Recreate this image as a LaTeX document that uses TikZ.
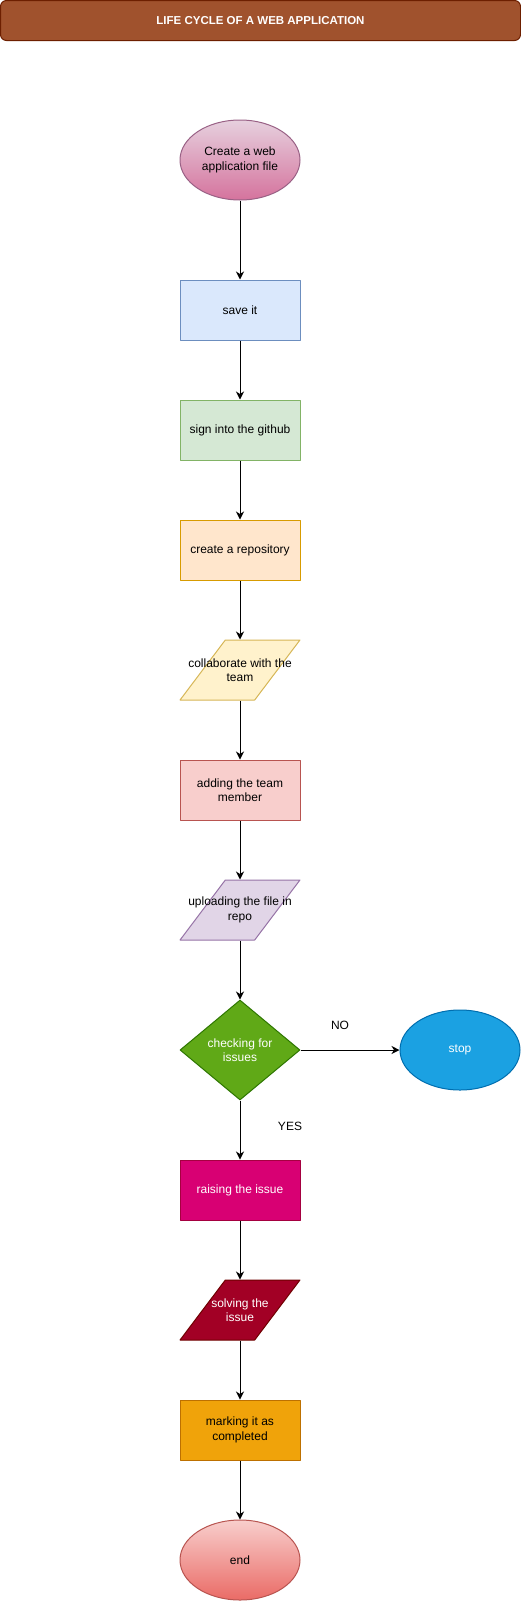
\documentclass[tikz,border=0pt]{standalone}
\usepackage{fontspec}
\setmainfont{Liberation Sans}
\usetikzlibrary{arrows.meta,shapes.geometric}
\definecolor{titleF}{HTML}{A0522D}\definecolor{titleL}{HTML}{6D1F00}
\definecolor{startA}{HTML}{E6D0DE}\definecolor{startB}{HTML}{D5739D}\definecolor{startL}{HTML}{996185}
\definecolor{saveF}{HTML}{DAE8FC}\definecolor{saveL}{HTML}{6C8EBF}
\definecolor{signF}{HTML}{D5E8D4}\definecolor{signL}{HTML}{82B366}
\definecolor{repoF}{HTML}{FFE6CC}\definecolor{repoL}{HTML}{D79B00}
\definecolor{collabF}{HTML}{FFF2CC}\definecolor{collabL}{HTML}{D6B656}
\definecolor{addF}{HTML}{F8CECC}\definecolor{addL}{HTML}{B85450}
\definecolor{uploadF}{HTML}{E1D5E7}\definecolor{uploadL}{HTML}{9673A6}
\definecolor{checkF}{HTML}{60A917}\definecolor{checkL}{HTML}{2D7600}
\definecolor{stopF}{HTML}{1BA1E2}\definecolor{stopL}{HTML}{006EAF}
\definecolor{raiseF}{HTML}{D80073}\definecolor{raiseL}{HTML}{A50040}
\definecolor{solveF}{HTML}{A20025}\definecolor{solveL}{HTML}{6F0000}
\definecolor{markF}{HTML}{F0A30A}\definecolor{markL}{HTML}{BD7000}
\definecolor{endA}{HTML}{F8CECC}\definecolor{endB}{HTML}{EA6B66}\definecolor{endL}{HTML}{B85450}
\tikzset{
	box/.style={draw,minimum width=120pt,minimum height=60pt,inner sep=0pt,align=center},
	oval/.style={box,ellipse,minimum height=80pt},
	para/.style={box,trapezium,inner sep=2pt,trapezium left angle=71.57,trapezium right angle=108.43,trapezium stretches=true},
}
\begin{document}
\begin{tikzpicture}[x=1pt,y=-1pt,line width=1pt,>={Stealth[length=8pt,width=8pt,inset=2.5pt]},line join=round,font=\fontsize{12}{14.5}\selectfont]
	\useasboundingbox (0,0) rectangle (521,1601);
	\node[draw=titleL,fill=titleF,rounded corners=6pt,minimum width=520pt,minimum height=40pt,text=white,font=\bfseries\fontsize{11.5}{14}\selectfont] (title) at (260.5,20.5) {LIFE CYCLE OF A WEB APPLICATION};
	\node[oval,top color=startA,bottom color=startB,draw=startL] (create) at (240,160) {Create a web\\application file};
	\node[box,fill=saveF,draw=saveL] (save) at (240,310) {save it};
	\node[box,fill=signF,draw=signL] (sign) at (240,430) {sign into the github};
	\node[box,fill=repoF,draw=repoL] (repo) at (240,550) {create a repository};
	\node[para,fill=collabF,draw=collabL,label={[align=center]center:{collaborate with the\\team}}] (collab) at (240,670) {\strut};
	\node[box,fill=addF,draw=addL] (add) at (240,790) {adding the team\\member};
	\node[para,fill=uploadF,draw=uploadL,label={[align=center]center:{uploading the file in\\repo}}] (upload) at (240,910) {\strut};
	\node[diamond,draw=checkL,fill=checkF,minimum width=120pt,minimum height=100pt,inner sep=0pt,aspect=1.2,align=center,text=white] (check) at (240,1050) {checking for\\issues};
	\node[oval,fill=stopF,draw=stopL,text=white] (stop) at (460,1050) {stop};
	\node (no) at (340,1025) {NO};
	\node (yes) at (290,1126) {YES};
	\node[box,fill=raiseF,draw=raiseL,text=white] (raise) at (240,1190) {raising the issue};
	\node[para,fill=solveF,draw=solveL,label={[align=center,text=white]center:{solving the\\issue}}] (solve) at (240,1310) {\strut};
	\node[box,fill=markF,draw=markL] (mark) at (240,1430) {marking it as\\completed};
	\node[oval,top color=endA,bottom color=endB,draw=endL] (finish) at (240,1560) {end};
	% flow
	\foreach \a/\b in {create/save,save/sign,sign/repo,repo/collab,collab/add,add/upload,upload/check,check/raise,raise/solve,solve/mark,mark/finish}
		\draw[->] (\a) -- (\b);
	\draw[->] (check) -- (stop);
\end{tikzpicture}
\end{document}
